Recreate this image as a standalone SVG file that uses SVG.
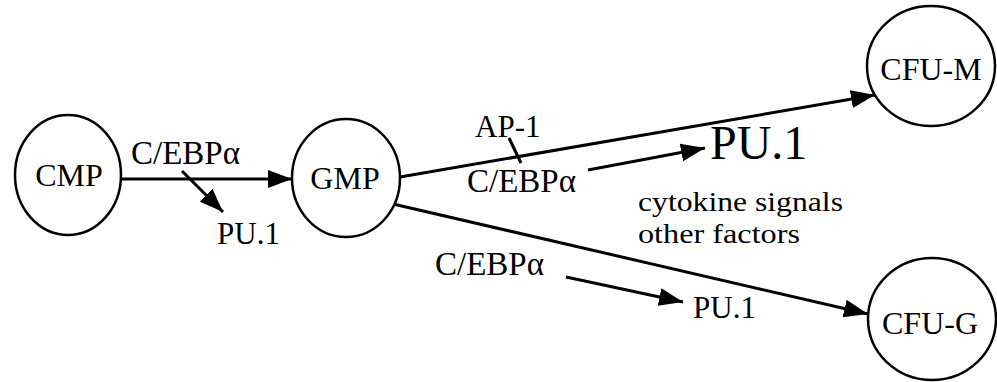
<svg xmlns="http://www.w3.org/2000/svg" width="997" height="382" viewBox="0 0 997 382">
<style>
.node ellipse{fill:#fff;stroke:#000;stroke-width:2.5}
text{font-family:"Liberation Serif","Times New Roman",serif;fill:#000}
.nl{font-size:32px;text-anchor:middle}
.lb{font-size:31px}
.ce{font-size:33px}
.sm{font-size:28px}
.edge{stroke:#000;stroke-width:3;fill:none}
</style>
<defs>
<marker id="ah" markerUnits="userSpaceOnUse" markerWidth="26" markerHeight="20" refX="24" refY="9" orient="auto" viewBox="0 0 26 20">
<path d="M0,0 L24,9 L0,18 z" fill="#000"/>
</marker>
</defs>
<g id="connectors">
<line class="edge" x1="122" y1="179" x2="292" y2="179" marker-end="url(#ah)"/>
<line class="edge" x1="182" y1="171" x2="223" y2="212" marker-end="url(#ah)"/>
<line class="edge" x1="400" y1="177" x2="875" y2="95" marker-end="url(#ah)"/>
<line class="edge" x1="509" y1="138" x2="521" y2="163"/>
<line class="edge" x1="588" y1="170" x2="705" y2="148" marker-end="url(#ah)"/>
<line class="edge" x1="393" y1="204" x2="868" y2="314" marker-end="url(#ah)"/>
<line class="edge" x1="566" y1="277" x2="683" y2="302" marker-end="url(#ah)"/>
</g>
<g id="CMP" class="node"><ellipse cx="68" cy="175" rx="53" ry="60"/><text class="nl" x="69" y="186">CMP</text></g>
<g id="GMP" class="node"><ellipse cx="346" cy="178" rx="54" ry="59"/><text class="nl" x="345" y="189">GMP</text></g>
<g id="CFU-M" class="node"><ellipse cx="931" cy="66" rx="64" ry="60"/><text class="nl" x="931" y="80">CFU-M</text></g>
<g id="CFU-G" class="node"><ellipse cx="932" cy="319" rx="64" ry="61"/><text class="nl" x="930" y="334">CFU-G</text></g>
<g id="labels">
<text class="ce" x="131" y="164">C/EBPα</text>
<text class="lb" x="217" y="244">PU.1</text>
<text class="lb" x="475" y="137">AP-1</text>
<text class="ce" x="467" y="192">C/EBPα</text>
<text x="710" y="159" font-size="48">PU.1</text>
<text class="sm" x="638" y="211" textLength="205" lengthAdjust="spacingAndGlyphs">cytokine signals</text>
<text class="sm" x="638" y="243" textLength="162" lengthAdjust="spacingAndGlyphs">other factors</text>
<text class="ce" x="435" y="275">C/EBPα</text>
<text class="lb" x="693" y="318">PU.1</text>
</g>
</svg>
